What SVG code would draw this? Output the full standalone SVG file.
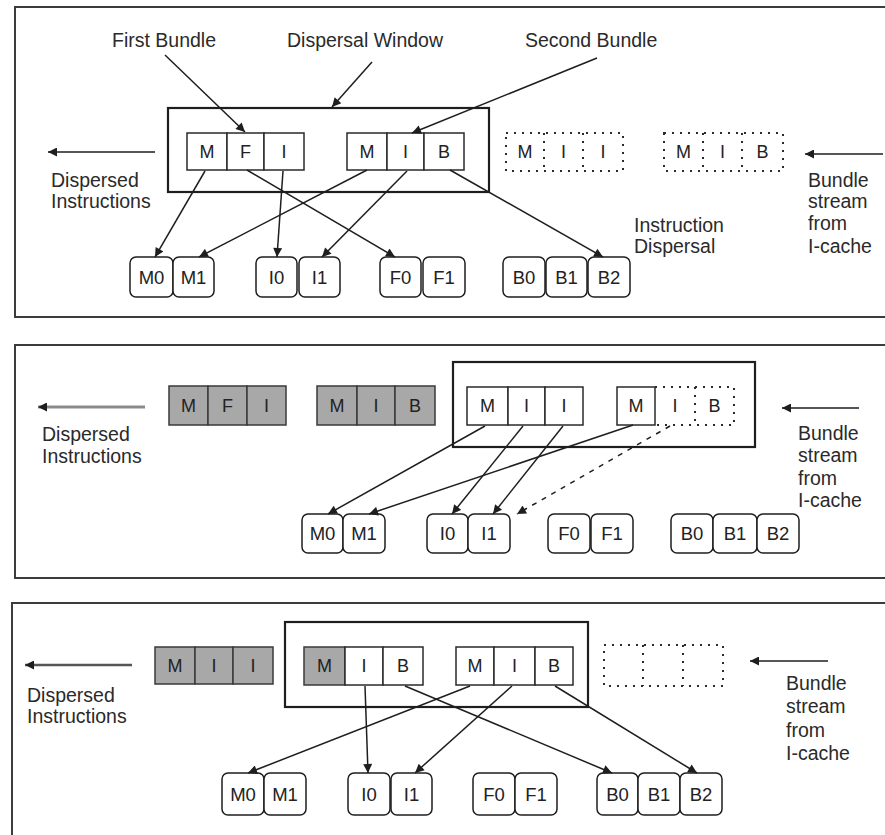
<svg xmlns="http://www.w3.org/2000/svg" width="885" height="835" viewBox="0 0 885 835">
<defs>
<marker id="ah" viewBox="0 0 10 10" refX="10" refY="5" markerWidth="11" markerHeight="9" markerUnits="userSpaceOnUse" orient="auto"><path d="M0,0 L10,5 L0,10 z" fill="#1e1e1e"/></marker>
</defs>
<style>
.panel{fill:none;stroke:#3c3c3c;stroke-width:2}
.win{fill:none;stroke:#1e1e1e;stroke-width:2.2}
.cell{fill:#fff;stroke:#2a2a2a;stroke-width:1.5}
.shade{fill:#a8a8a8;stroke:#3a3a3a;stroke-width:1.5}
.dot{fill:none;stroke:#2a2a2a;stroke-width:2;stroke-dasharray:2 6}
.unit{fill:#fff;stroke:#1e1e1e;stroke-width:1.5}
.lbl{font-family:"Liberation Sans",Arial,sans-serif;font-size:19.5px;fill:#2a2a2a}
.ct{font-family:"Liberation Sans",Arial,sans-serif;font-size:18px;fill:#222;text-anchor:middle}
.ut{font-family:"Liberation Sans",Arial,sans-serif;font-size:18.5px;fill:#222;text-anchor:middle}
.conn{stroke:#1e1e1e;stroke-width:1.5;fill:none;marker-end:url(#ah)}
.dash{stroke-dasharray:5 6}
.gray{stroke:#8a8a8a;stroke-width:3}
</style>
<rect width="885" height="835" fill="#fff"/>

<!-- Panel 1 -->
<g id="panel1">
<rect class="panel" x="15" y="7" width="890" height="310"/>
<g id="p1-window"><rect class="win" x="168" y="108" width="321" height="84"/></g>
<g id="p1-bundle1">
<rect class="cell" x="187" y="133" width="40" height="37"/><text class="ct" x="207" y="158">M</text>
<rect class="cell" x="227" y="133" width="37" height="37"/><text class="ct" x="245.5" y="158">F</text>
<rect class="cell" x="264" y="133" width="40" height="37"/><text class="ct" x="284" y="158">I</text>
</g>
<g id="p1-bundle2">
<rect class="cell" x="347" y="133" width="40" height="37"/><text class="ct" x="367" y="158">M</text>
<rect class="cell" x="387" y="133" width="37" height="37"/><text class="ct" x="405.5" y="158">I</text>
<rect class="cell" x="424" y="133" width="40" height="37"/><text class="ct" x="444" y="158">B</text>
</g>
<g id="p1-bundle3">
<rect class="dot" x="506" y="133" width="117" height="38"/>
<line class="dot" x1="544" y1="133" x2="544" y2="171"/><line class="dot" x1="583" y1="133" x2="583" y2="171"/>
<text class="ct" x="525" y="158">M</text><text class="ct" x="563.5" y="158">I</text><text class="ct" x="603" y="158">I</text>
</g>
<g id="p1-bundle4">
<rect class="dot" x="664" y="133" width="119" height="38"/>
<line class="dot" x1="703" y1="133" x2="703" y2="171"/><line class="dot" x1="742" y1="133" x2="742" y2="171"/>
<text class="ct" x="683.5" y="158">M</text><text class="ct" x="722.5" y="158">I</text><text class="ct" x="762.5" y="158">B</text>
</g>
<g id="p1-labels">
<text class="lbl" x="112" y="47">First Bundle</text>
<text class="lbl" x="287" y="47">Dispersal Window</text>
<text class="lbl" x="525" y="47">Second Bundle</text>
<text class="lbl" x="51" y="187">Dispersed</text><text class="lbl" x="51" y="208">Instructions</text>
<text class="lbl" x="634" y="232">Instruction</text><text class="lbl" x="634" y="253">Dispersal</text>
<text class="lbl" x="808" y="187">Bundle</text><text class="lbl" x="808" y="208">stream</text><text class="lbl" x="808" y="230">from</text><text class="lbl" x="808" y="253">I-cache</text>
</g>
<g id="p1-units">
<rect class="unit" x="130" y="257" width="43" height="40" rx="6"/><text class="ut" x="151.5" y="284">M0</text>
<rect class="unit" x="173" y="257" width="41" height="40" rx="6"/><text class="ut" x="193.5" y="284">M1</text>
<rect class="unit" x="256" y="257" width="41" height="40" rx="6"/><text class="ut" x="276.5" y="284">I0</text>
<rect class="unit" x="299" y="257" width="41" height="40" rx="6"/><text class="ut" x="319.5" y="284">I1</text>
<rect class="unit" x="380" y="257" width="41" height="40" rx="6"/><text class="ut" x="400.5" y="284">F0</text>
<rect class="unit" x="423" y="257" width="42" height="40" rx="6"/><text class="ut" x="444" y="284">F1</text>
<rect class="unit" x="503" y="257" width="42" height="40" rx="6"/><text class="ut" x="524" y="284">B0</text>
<rect class="unit" x="546" y="257" width="41" height="40" rx="6"/><text class="ut" x="566.5" y="284">B1</text>
<rect class="unit" x="588" y="257" width="42" height="40" rx="6"/><text class="ut" x="609" y="284">B2</text>
</g>
</g>

<!-- Panel 2 -->
<g id="panel2">
<rect class="panel" x="15" y="345" width="890" height="233"/>
<g id="p2-shaded1">
<rect class="shade" x="169" y="386" width="39" height="39"/><text class="ct" x="188.5" y="412">M</text>
<rect class="shade" x="208" y="386" width="39" height="39"/><text class="ct" x="227.5" y="412">F</text>
<rect class="shade" x="247" y="386" width="39" height="39"/><text class="ct" x="266.5" y="412" fill="#666">I</text>
</g>
<g id="p2-shaded2">
<rect class="shade" x="317" y="386" width="40" height="39"/><text class="ct" x="337" y="412">M</text>
<rect class="shade" x="357" y="386" width="38" height="39"/><text class="ct" x="376" y="412" fill="#666">I</text>
<rect class="shade" x="395" y="386" width="40" height="39"/><text class="ct" x="415" y="412">B</text>
</g>
<g id="p2-window"><rect class="win" x="453" y="362" width="302" height="85"/></g>
<g id="p2-bundle1">
<rect class="cell" x="467" y="387" width="41" height="38"/><text class="ct" x="487.5" y="412">M</text>
<rect class="cell" x="508" y="387" width="37" height="38"/><text class="ct" x="526.5" y="412">I</text>
<rect class="cell" x="545" y="387" width="38" height="38"/><text class="ct" x="564" y="412">I</text>
</g>
<g id="p2-bundle2">
<path class="dot" d="M655,387 H734 V425 H655"/>
<line class="dot" x1="695" y1="387" x2="695" y2="425"/>
<rect class="cell" x="617" y="387" width="38" height="38"/><text class="ct" x="636" y="412">M</text>
<text class="ct" x="675" y="412">I</text><text class="ct" x="714.5" y="412">B</text>
</g>
<g id="p2-labels">
<text class="lbl" x="42" y="441">Dispersed</text><text class="lbl" x="42" y="463">Instructions</text>
<text class="lbl" x="798" y="440">Bundle</text><text class="lbl" x="798" y="462">stream</text><text class="lbl" x="798" y="485">from</text><text class="lbl" x="798" y="507">I-cache</text>
</g>
<g id="p2-units">
<rect class="unit" x="302" y="514" width="41" height="39" rx="6"/><text class="ut" x="322.5" y="540">M0</text>
<rect class="unit" x="343" y="514" width="42" height="39" rx="6"/><text class="ut" x="364" y="540">M1</text>
<rect class="unit" x="427" y="514" width="41" height="39" rx="6"/><text class="ut" x="447.5" y="540">I0</text>
<rect class="unit" x="468" y="514" width="42" height="39" rx="6"/><text class="ut" x="489" y="540">I1</text>
<rect class="unit" x="548" y="514" width="42" height="39" rx="6"/><text class="ut" x="569" y="540">F0</text>
<rect class="unit" x="591" y="514" width="42" height="39" rx="6"/><text class="ut" x="612" y="540">F1</text>
<rect class="unit" x="671" y="514" width="42" height="39" rx="6"/><text class="ut" x="692" y="540">B0</text>
<rect class="unit" x="713" y="514" width="44" height="39" rx="6"/><text class="ut" x="735" y="540">B1</text>
<rect class="unit" x="757" y="514" width="42" height="39" rx="6"/><text class="ut" x="778" y="540">B2</text>
</g>
</g>

<!-- Panel 3 -->
<g id="panel3">
<rect class="panel" x="12" y="603" width="890" height="260"/>
<g id="p3-shaded1">
<rect class="shade" x="155" y="647" width="40" height="37"/><text class="ct" x="175" y="672">M</text>
<rect class="shade" x="195" y="647" width="38" height="37"/><text class="ct" x="214" y="672" fill="#666">I</text>
<rect class="shade" x="233" y="647" width="40" height="37"/><text class="ct" x="253" y="672" fill="#666">I</text>
</g>
<g id="p3-window"><rect class="win" x="285" y="622" width="303" height="85"/></g>
<g id="p3-bundle1">
<rect class="shade" x="304" y="647" width="41" height="38"/><text class="ct" x="324.5" y="672">M</text>
<rect class="cell" x="345" y="647" width="38" height="38"/><text class="ct" x="364" y="672">I</text>
<rect class="cell" x="383" y="647" width="40" height="38"/><text class="ct" x="403" y="672">B</text>
</g>
<g id="p3-bundle2">
<rect class="cell" x="456" y="647" width="38" height="38"/><text class="ct" x="475" y="672">M</text>
<rect class="cell" x="494" y="647" width="41" height="38"/><text class="ct" x="514.5" y="672">I</text>
<rect class="cell" x="535" y="647" width="38" height="38"/><text class="ct" x="554" y="672">B</text>
</g>
<g id="p3-bundle3">
<rect class="dot" x="604" y="645" width="119" height="41"/>
<line class="dot" x1="643" y1="645" x2="643" y2="686"/><line class="dot" x1="683" y1="645" x2="683" y2="686"/>
</g>
<g id="p3-labels">
<text class="lbl" x="27" y="702">Dispersed</text><text class="lbl" x="27" y="723">Instructions</text>
<text class="lbl" x="786" y="690">Bundle</text><text class="lbl" x="786" y="713">stream</text><text class="lbl" x="786" y="737">from</text><text class="lbl" x="786" y="760">I-cache</text>
</g>
<g id="p3-units">
<rect class="unit" x="222" y="773" width="42" height="42" rx="6"/><text class="ut" x="243" y="801">M0</text>
<rect class="unit" x="264" y="773" width="42" height="42" rx="6"/><text class="ut" x="285" y="801">M1</text>
<rect class="unit" x="348" y="773" width="42" height="42" rx="6"/><text class="ut" x="369" y="801">I0</text>
<rect class="unit" x="391" y="773" width="41" height="42" rx="6"/><text class="ut" x="411.5" y="801">I1</text>
<rect class="unit" x="473" y="773" width="42" height="42" rx="6"/><text class="ut" x="494" y="801">F0</text>
<rect class="unit" x="515" y="773" width="42" height="42" rx="6"/><text class="ut" x="536" y="801">F1</text>
<rect class="unit" x="597" y="773" width="41" height="42" rx="6"/><text class="ut" x="617.5" y="801">B0</text>
<rect class="unit" x="638" y="773" width="42" height="42" rx="6"/><text class="ut" x="659" y="801">B1</text>
<rect class="unit" x="680" y="773" width="42" height="42" rx="6"/><text class="ut" x="701" y="801">B2</text>
</g>
</g>

<!-- Connectors -->
<g id="connectors">
<line class="conn" x1="372" y1="62" x2="332" y2="107"/>
<line class="conn" x1="165" y1="55" x2="245" y2="132"/>
<line class="conn" x1="597" y1="58" x2="412" y2="133"/>
<line class="conn" x1="155" y1="152" x2="48" y2="152"/>
<line class="conn" x1="883" y1="154" x2="805" y2="154"/>
<line class="conn" x1="205" y1="171" x2="155" y2="257"/>
<line class="conn" x1="247" y1="170" x2="395" y2="257"/>
<line class="conn" x1="283" y1="171" x2="277" y2="257"/>
<line class="conn" x1="367" y1="170" x2="199" y2="257"/>
<line class="conn" x1="407" y1="171" x2="322" y2="257"/>
<line class="conn" x1="450" y1="170" x2="603" y2="257"/>

<line class="conn gray" x1="145" y1="407" x2="38" y2="407"/>
<line class="conn" x1="859" y1="408" x2="782" y2="408"/>
<line class="conn" x1="485" y1="426" x2="328" y2="514"/>
<line class="conn" x1="633" y1="425" x2="369" y2="514"/>
<line class="conn" x1="523" y1="426" x2="452" y2="514"/>
<line class="conn" x1="563" y1="426" x2="493" y2="514"/>
<line class="conn dash" x1="670" y1="426" x2="517" y2="514"/>

<line class="conn" x1="132" y1="665" x2="25" y2="665" style="stroke:#555;stroke-width:2.5"/>
<line class="conn" x1="828" y1="661" x2="750" y2="661"/>
<line class="conn" x1="365" y1="686" x2="368" y2="773"/>
<line class="conn" x1="470" y1="686" x2="248" y2="773"/>
<line class="conn" x1="512" y1="686" x2="415" y2="773"/>
<line class="conn" x1="405" y1="686" x2="612" y2="773"/>
<line class="conn" x1="555" y1="686" x2="697" y2="773"/>
</g>
</svg>
